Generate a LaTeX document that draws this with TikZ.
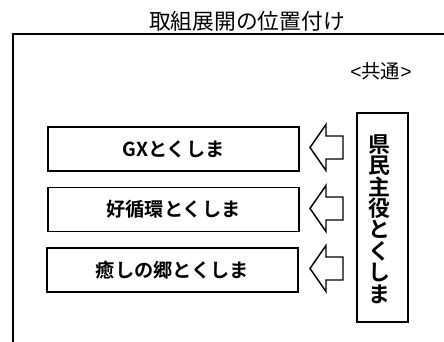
\documentclass[tikz,border=0pt]{standalone}
\usepackage{fontspec}
\setmainfont{Noto Sans CJK JP}
\newfontfamily\jpbold{Noto Sans CJK JP Bold}
\newfontfamily\latinsans{Liberation Sans}
\begin{document}
\begin{tikzpicture}[x=0.75pt,y=-0.75pt,
  itembox/.style={draw,line width=1.1pt,minimum width=251*0.75pt,minimum height=44*0.75pt,inner sep=0pt,font=\jpbold\fontsize{14.4}{16}\selectfont},
  blockarrow/.style={draw,line width=1.1pt,fill=white,line join=miter},
  frameline/.style={line width=2.2pt}]
\useasboundingbox (0,0) rectangle (444,342);
% frame
\coordinate (fl) at (13,342);
\coordinate (fc) at (13,34);
\coordinate (fr) at (446,34);
\draw[frameline] (fl) -- (fc) -- (fr);
% title
\node (title) at (247,21) {\fontsize{16.3}{18}\selectfont 取組展開の位置付け};
\node (common) at (381,71) {\fontsize{14.5}{16}\selectfont{\latinsans<}共通{\latinsans>}};
% vertical box
\node[draw,line width=1.1pt,minimum width=51*0.75pt,minimum height=209*0.75pt,inner sep=0pt] (kenmin) at (382.5,217.5) {};
\node[align=center,inner sep=0pt,font=\jpbold\fontsize{16.4}{16.1}\selectfont] (ktext) at (379,219) {県\\民\\主\\役\\と\\く\\し\\ま};
% item boxes
\node[itembox] (gx) at (173.5,149) {GXとくしま};
\node[itembox] (kou) at (173.5,209.5) {好循環とくしま};
\node[itembox] (iyashi) at (172.5,270) {癒しの郷とくしま};
% block arrows
\foreach \n/\c in {a1/147.5,a2/208.5,a3/268.5}{
  \coordinate (\n) at (310,\c);
  \draw[blockarrow] (\n) -- ++(16,-23) -- ++(0,11.5) -- ++(17,0) -- ++(0,23) -- ++(-17,0) -- ++(0,11.5) -- cycle;
}
\end{tikzpicture}
\end{document}
